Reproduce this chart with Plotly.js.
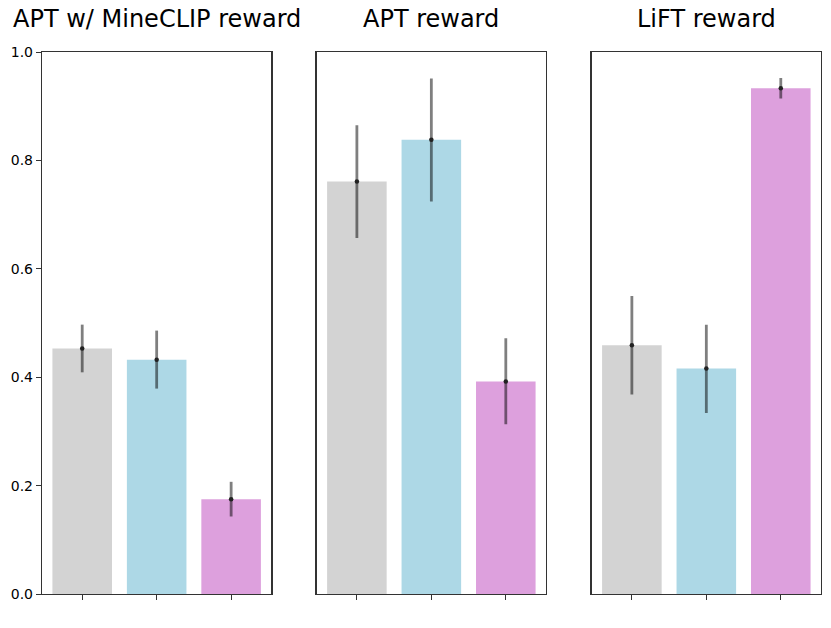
<!DOCTYPE html>
<html>
<head>
<meta charset="utf-8">
<script src="https://cdn.plot.ly/plotly-3.0.1.min.js"></script>
<style>
  html, body { margin: 0; padding: 0; background: #fff; }
  #plot { width: 831px; height: 628px; }
</style>
</head>
<body>
<div id="plot"></div>
<script>
// three reward settings, three methods each (bars have no tick labels)
var panelTitles = ['APT w/ MineCLIP reward', 'APT reward', 'LiFT reward'];
var methods = ['m1', 'm2', 'm3'];
var barColors = ['#d3d3d3', '#add8e6', '#dda0dd'];

// bar height, top and bottom of the error bar
var mineclipMean = [0.453, 0.432, 0.175];
var mineclipHigh = [0.497, 0.486, 0.207];
var mineclipLow  = [0.409, 0.379, 0.143];

var aptMean = [0.761, 0.838, 0.392];
var aptHigh = [0.865, 0.951, 0.472];
var aptLow  = [0.657, 0.724, 0.313];

var liftMean = [0.459, 0.416, 0.933];
var liftHigh = [0.550, 0.497, 0.952];
var liftLow  = [0.368, 0.334, 0.914];

var yTicks = [0, 0.2, 0.4, 0.6, 0.8, 1.0];

var panels = [
  [mineclipMean, mineclipHigh, mineclipLow],
  [aptMean, aptHigh, aptLow],
  [liftMean, liftHigh, liftLow]
];
var domains = [[0, 0.2944], [0.3526, 0.647], [0.7056, 1.0]];

var traces = [];
var layout = {
  width: 831,
  height: 628,
  margin: { l: 42, r: 10, t: 52, b: 34 },
  paper_bgcolor: '#fff',
  plot_bgcolor: '#fff',
  showlegend: false,
  font: { family: 'DejaVu Sans', size: 14, color: '#000' },
  annotations: []
};

panels.forEach(function(p, i) {
  var mean = p[0], hi = p[1], lo = p[2];
  var sfx = i === 0 ? '' : String(i + 1);
  traces.push({
    type: 'bar',
    x: methods,
    y: mean,
    xaxis: 'x' + sfx,
    yaxis: 'y' + sfx,
    width: 0.8,
    marker: { color: barColors, line: { width: 0 } },
    error_y: {
      type: 'data',
      symmetric: false,
      array: hi.map(function(v, k) { return v - mean[k]; }),
      arrayminus: lo.map(function(v, k) { return mean[k] - v; }),
      color: 'rgba(0,0,0,0.5)',
      thickness: 2.8,
      width: 0
    },
    hoverinfo: 'y'
  });
  // the small dot at the mean
  traces.push({
    type: 'scatter',
    mode: 'markers',
    x: methods,
    y: mean,
    xaxis: 'x' + sfx,
    yaxis: 'y' + sfx,
    marker: { color: '#222', size: 4.5 },
    hoverinfo: 'skip'
  });

  layout['xaxis' + sfx] = {
    domain: domains[i],
    anchor: 'y' + sfx,
    type: 'category',
    range: [-0.54, 2.54],
    showticklabels: false,
    ticks: 'outside',
    ticklen: 5,
    tickwidth: 1,
    tickcolor: '#333',
    showline: true,
    mirror: true,
    linecolor: '#333',
    linewidth: 1.2,
    showgrid: false,
    zeroline: false,
    fixedrange: true
  };
  layout['yaxis' + sfx] = {
    anchor: 'x' + sfx,
    range: [0, 1],
    tickvals: yTicks,
    tickformat: '.1f',
    showticklabels: i === 0,
    ticks: i === 0 ? 'outside' : '',
    ticklen: 5,
    tickwidth: 1,
    tickcolor: '#333',
    showline: true,
    mirror: true,
    linecolor: '#333',
    linewidth: 1.2,
    showgrid: false,
    zeroline: false,
    fixedrange: true
  };
  if (i > 0) layout['yaxis' + sfx].matches = 'y';

  layout.annotations.push({
    text: panelTitles[i],
    xref: 'paper',
    yref: 'paper',
    x: (domains[i][0] + domains[i][1]) / 2,
    y: 1 + (52.5 - 20) / 542,
    xanchor: 'center',
    yanchor: 'middle',
    showarrow: false,
    font: { family: 'DejaVu Sans', size: 24, color: '#000' }
  });
});

Plotly.newPlot('plot', traces, layout, { displayModeBar: false, staticPlot: true });
</script>
</body>
</html>
